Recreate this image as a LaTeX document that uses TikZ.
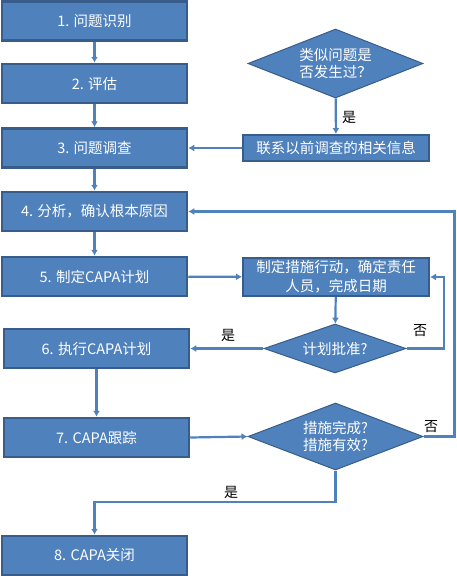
\documentclass[tikz,border=0pt]{standalone}
\usepackage{fontspec}
\setmainfont{Noto Sans CJK SC}
\usetikzlibrary{shapes.geometric,arrows.meta}
\definecolor{capablue}{RGB}{79,129,189}
\definecolor{capaedge}{RGB}{56,93,138}

\begin{document}
\begin{tikzpicture}[x=1pt,y=-1pt,
  box/.style={draw=capaedge,fill=capablue,line width=2.5pt,text=white,
    minimum width=185pt,minimum height=39pt,inner sep=0pt,
    font=\fontsize{14.5}{19}\selectfont,align=center},
  choice/.style={diamond,draw=capaedge,fill=capablue,line width=1pt,text=white,
    inner sep=0pt,font=\fontsize{14.5}{17}\selectfont,align=center},
  flow/.style={draw=capablue,line width=2.2pt,-{Latex[length=6pt,width=7pt]}},
  tag/.style={font=\fontsize{14}{16}\selectfont,text=black}]

\useasboundingbox (0,0) rectangle (456,576);

% main steps on the left
\node[box] (ident) at (94.5,21) {1. 问题识别};
\node[box] (assess) at (94.5,83.5) {2. 评估};
\node[box] (invest) at (94.5,148) {3. 问题调查};
\node[box] (cause) at (94.5,211.5) {4. 分析，确认根本原因};
\node[box] (plan) at (94.5,276.5) {5. 制定CAPA计划};
\node[box] (exec) at (96.5,348.5) {6. 执行CAPA计划};
\node[box] (track) at (96.5,437.5) {7. CAPA跟踪};
\node[box] (close) at (94.5,555.5) {8. CAPA关闭};

% right column
\node[choice,shape aspect=2.54,minimum width=175pt,minimum height=69pt] (similar) at (335.5,63.5) {类似问题是\\否发生过？};
\node[box,line width=2pt,minimum width=186pt,minimum height=26pt] (contact) at (336,148) {联系以前调查的相关信息};
\node[box,line width=2pt,minimum width=186pt,minimum height=38pt] (action) at (336,277) {制定措施行动，确定责任\\人员，完成日期};
\node[choice,shape aspect=2.9,minimum width=142pt,minimum height=49pt] (approve) at (335,348.5) {计划批准?};
\node[choice,shape aspect=2.6,minimum width=175pt,minimum height=67pt] (done) at (335.5,436.5) {措施完成?\\措施有效?};

\draw[flow] (ident) -- (assess);
\draw[flow] (assess) -- (invest);
\draw[flow] (invest) -- (cause);
\draw[flow] (cause) -- (plan);
\draw[flow] (exec.south) -- (track.north);

\draw[flow] (similar) -- (contact);
\node[tag] (yes1) at (349,117) {是};
\draw[flow] (contact) -- (invest);

\draw[flow] (plan) -- (action);
\draw[flow] (action) -- (approve);
\draw[flow] (approve) -- (exec);
\node[tag] (yes2) at (228,335) {是};
\draw[flow] (approve.east) -| (444,277) -- (action.east);
\node[tag] (no1) at (420,331) {否};

\draw[flow] (track.east) -- (done.west);
\draw[flow] (done.east) -| (454.5,211.5) -- (cause.east);
\node[tag] (no2) at (431,427) {否};
\draw[flow] (done.south) |- (94.5,502) -- (close.north);
\node[tag] (yes3) at (231,492) {是};

\end{tikzpicture}
\end{document}
